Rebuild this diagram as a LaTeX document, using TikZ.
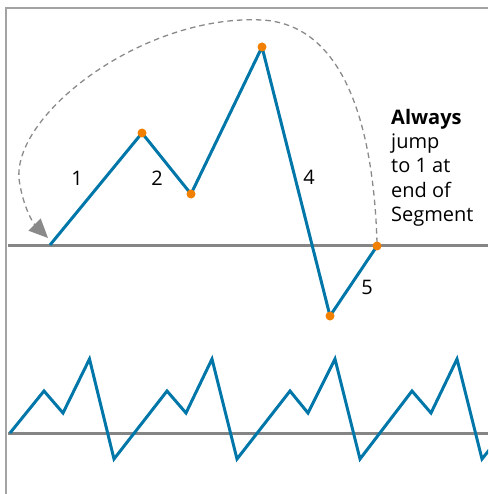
\documentclass[tikz,border=0pt]{standalone}
\usepackage{fontspec}
\setmainfont{Open Sans}
\usetikzlibrary{arrows.meta}
\definecolor{wavec}{HTML}{0077A8}
\definecolor{dotc}{HTML}{F28000}
\definecolor{axisc}{HTML}{858585}
\definecolor{framec}{HTML}{A3A3A3}
\definecolor{dashc}{HTML}{8A8A8A}
\begin{document}
\begin{tikzpicture}[x=1pt,y=-1pt,
  waveline/.style={draw=wavec,line width=3pt,line join=miter},
  axisline/.style={draw=axisc,line width=3pt},
  frameline/.style={draw=framec,line width=2pt},
  dotn/.style={circle,fill=dotc,inner sep=0pt,minimum size=9pt},
  lbl/.style={font=\fontsize{20}{24}\selectfont,inner sep=0pt},
  jumpline/.style={draw=dashc,line width=1.3pt,dash pattern=on 5.5pt off 4pt,
    -{Triangle[length=19pt,width=17pt,fill=dashc]}}
]
\useasboundingbox (0,0) rectangle (488,494);
% frame
\draw[frameline] (6,494) -- (6,8) -- (488,8);
% axes
\coordinate (axL1) at (8,245);
\coordinate (axR1) at (488,245);
\coordinate (axL2) at (8,433);
\coordinate (axR2) at (488,433);
\draw[axisline] (axL1) -- (axR1);
\draw[axisline] (axL2) -- (axR2);
% top segment
\coordinate (a0) at (50,245);
\coordinate (a1) at (142,133);
\coordinate (a2) at (191,194);
\coordinate (a3) at (262,47);
\coordinate (a4) at (330,316);
\coordinate (a5) at (377,246);
\draw[waveline] (a0) -- (a1) -- (a2) -- (a3) -- (a4) -- (a5);
% jump curve
\coordinate (jtop) at (262,20);
\coordinate (jleft) at (20,185);
\coordinate (jend) at (48,238);
\draw[jumpline] (a5) ++(0,-3) .. controls (374,140) and (350,25) .. (jtop)
  .. controls (140,14) and (5,120) .. (jleft)
  .. controls (24,208) and (33,223) .. (jend);
% dots
\node[dotn] (d1) at (a1) {};
\node[dotn] (d2) at (a2) {};
\node[dotn] (d3) at (a3) {};
\node[dotn] (d4) at (a4) {};
\node[dotn] (d5) at (a5) {};
% labels
\node[lbl] (l1) at (77,178) {1};
\node[lbl] (l2) at (157,178) {2};
\node[lbl] (l4) at (309,177) {4};
\node[lbl] (l5) at (367,287) {5};
% note
\node[lbl,anchor=base west] (n1) at (391,125) {\textbf{Always}};
\node[lbl,anchor=base west] (n2) at (391,149) {jump};
\node[lbl,anchor=base west] (n3) at (391,173) {to 1 at};
\node[lbl,anchor=base west] (n4) at (391,197) {end of};
\node[lbl,anchor=base west] (n5) at (391,221) {Segment};
% repeated wave
\begin{scope}
\clip (0,0) rectangle (488,494);
\draw[waveline] plot coordinates {(10,433) (44,391) (63,413) (89.5,359) (114,459) (167,391) (186,413) (212,359) (237,459) (290,391) (308,413) (335,359) (360,459) (412,391) (431,413) (457,359) (482,459) (490,449)};
\end{scope}
\end{tikzpicture}
\end{document}
